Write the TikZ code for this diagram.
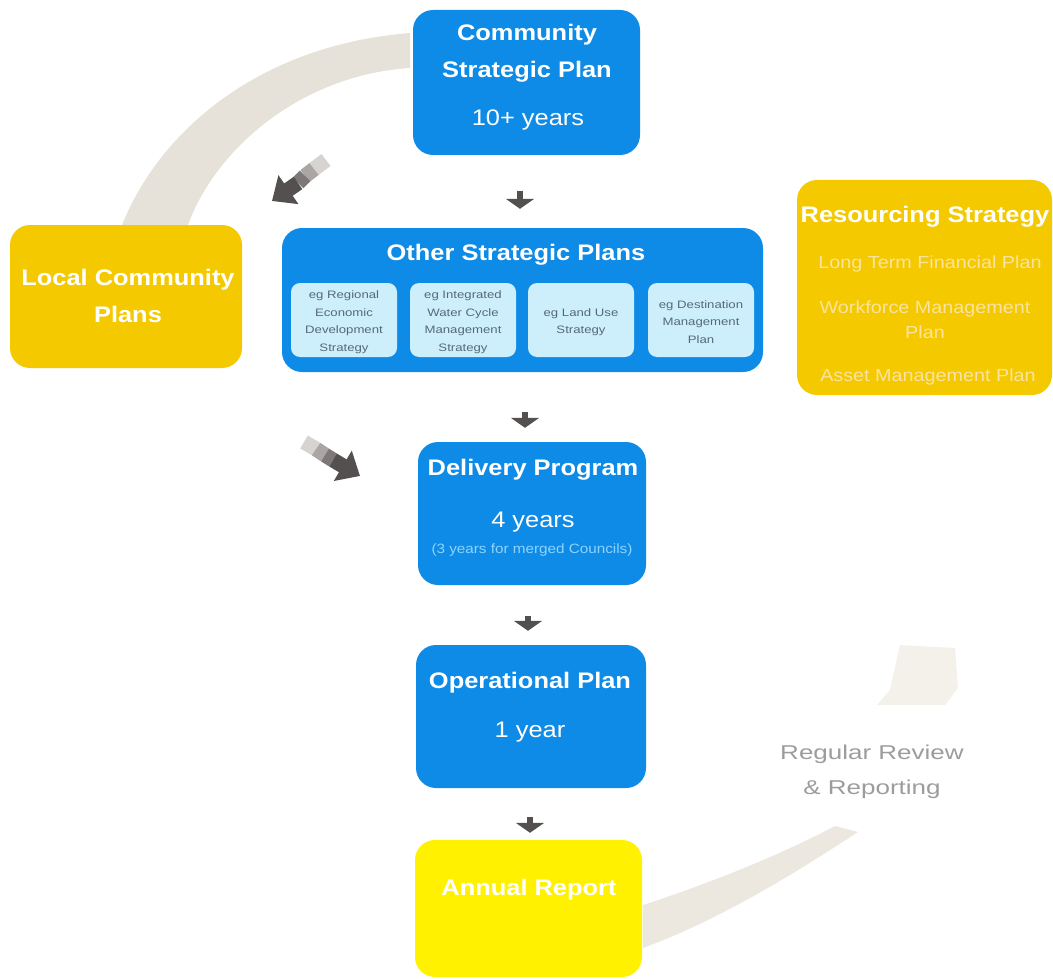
\documentclass[tikz,border=0pt]{standalone}
\usepackage{fontspec}
\setmainfont{Liberation Sans}[FakeStretch=1.13]
\newfontfamily\widefont{Liberation Sans}[FakeStretch=1.3]
\newfontfamily\subfont{Liberation Sans}[FakeStretch=1.22]
\usetikzlibrary{arrows.meta}
\definecolor{bluebox}{HTML}{0E8BE6}
\definecolor{goldbox}{HTML}{F4C900}
\definecolor{arbox}{HTML}{FFF100}
\definecolor{subfill}{HTML}{CDEFFB}
\definecolor{subtext}{HTML}{56697A}
\definecolor{rstext}{HTML}{FBE3A0}
\definecolor{dpnote}{HTML}{8ED4FF}
\definecolor{reviewtext}{HTML}{9C9C9C}
\definecolor{arrowgray}{HTML}{555050}
\definecolor{tailA}{HTML}{7E7878}
\definecolor{tailB}{HTML}{ABA6A4}
\definecolor{tailC}{HTML}{D6D3D0}
\definecolor{bandA}{HTML}{E6E2D9}
\definecolor{bandB}{HTML}{ECE8DF}
\definecolor{bandC}{HTML}{F4F1EA}
\tikzset{
  boxbase/.style={rounded corners=20pt, inner sep=0pt, draw=none},
  bluebx/.style={boxbase, fill=bluebox},
  goldbx/.style={boxbase, fill=goldbox},
  arbx/.style={boxbase, fill=arbox},
  subbx/.style={rounded corners=9pt, inner sep=0pt, fill=subfill, minimum width=106pt, minimum height=74pt},
  ttl/.style={text=white, font=\fontsize{22.5}{24}\selectfont\bfseries, inner sep=0pt},
  yrs/.style={text=white, font=\fontsize{22.5}{24}\selectfont, inner sep=0pt},
  subtxt/.style={text=subtext, font=\subfont\fontsize{10.8}{17.5}\selectfont, align=center, inner sep=0pt},
  rsitem/.style={text=rstext, font=\fontsize{17.5}{25}\selectfont, align=center, inner sep=0pt},
  downarr/.style={draw=arrowgray, line width=6pt, -{Triangle[width=28pt,length=10pt]}},
  diagarr/.style={draw=arrowgray, line width=15pt, -{Triangle[width=34pt,length=20pt]}},
  tailseg/.style={line width=15pt},
}
\begin{document}
\begin{tikzpicture}[x=1pt,y=-1pt]
\useasboundingbox (0,0) rectangle (1053,979);
% background bands
\fill[bandA] (410,33) .. controls (260,45) and (160,130) .. (122,225)
  -- (188,225) .. controls (215,150) and (300,75) .. (410,68) -- cycle;
\fill[bandB] (643,905) .. controls (720,880) and (790,850) .. (835,826)
  -- (858,832) .. controls (800,870) and (720,920) .. (643,948) -- cycle;
\fill[bandC] (900,645) -- (955,648) -- (958,688) -- (945,705) -- (877,705) -- (890,690) -- cycle;

% boxes
\node[bluebx, minimum width=227pt, minimum height=145pt] (csp) at (526.5,82.5) {};
\node[goldbx, minimum width=232pt, minimum height=143pt] (lcp) at (126,296.5) {};
\node[bluebx, minimum width=481pt, minimum height=144pt] (osp) at (522.5,300) {};
\node[goldbx, minimum width=255pt, minimum height=215pt] (rs) at (924.5,287.5) {};
\node[bluebx, minimum width=228pt, minimum height=143pt] (dp) at (532,513.5) {};
\node[bluebx, minimum width=230pt, minimum height=143pt] (op) at (531,716.5) {};
\node[arbx, minimum width=227pt, minimum height=137pt] (ar) at (528.5,908.5) {};

% sub boxes
\node[subbx] (s1) at (344,320) {};
\node[subbx] (s2) at (463,320) {};
\node[subbx] (s3) at (581,320) {};
\node[subbx] (s4) at (701,320) {};

% texts
\node[ttl] (csp1) at (527,35) {Community};
\node[ttl] (csp2) at (527,72) {Strategic Plan};
\node[yrs] (csp3) at (528,120) {10+ years};

\node[ttl] (lcp1) at (128,280) {Local Community};
\node[ttl] (lcp2) at (128,314) {Plans};

\node[ttl] (osp1) at (516,255) {Other Strategic Plans};
\node[subtxt] (s1t) at (344,322) {eg Regional\\Economic\\Development\\Strategy};
\node[subtxt] (s2t) at (463,322) {eg Integrated\\Water Cycle\\Management\\Strategy};
\node[subtxt] (s3t) at (581,322) {eg Land Use\\Strategy};
\node[subtxt] (s4t) at (701,322) {eg Destination\\Management\\Plan};

\node[ttl] (rs1) at (925,217) {Resourcing Strategy};
\node[rsitem] (rs2) at (930,264) {Long Term Financial Plan};
\node[rsitem] (rs3) at (925,320) {Workforce Management\\Plan};
\node[rsitem] (rs4) at (928,377) {Asset Management Plan};

\node[ttl] (dp1) at (533,470) {Delivery Program};
\node[yrs] (dp2) at (533,522) {4 years};
\node[text=dpnote, font=\fontsize{13.5}{15}\selectfont, inner sep=0pt] (dp3) at (532,550) {(3 years for merged Councils)};

\node[ttl] (op1) at (530,683) {Operational Plan};
\node[yrs] (op2) at (530,732) {1 year};

\node[ttl] (ar1) at (529,890) {Annual Report};

\node[text=reviewtext, font=\widefont\fontsize{20}{35}\selectfont, align=center, inner sep=0pt] (rr) at (872,772) {Regular Review\\\& Reporting};

% small down arrows
\draw[downarr, shorten <=36pt, shorten >=19pt] (csp.south -| 520,0) -- (osp.north -| 520,0);
\draw[downarr, shorten <=40pt, shorten >=14pt] (osp.south -| 525,0) -- (dp.north -| 525,0);
\draw[downarr, shorten <=31pt, shorten >=14pt] (dp.south -| 528,0) -- (op.north -| 528,0);
\draw[downarr, shorten <=29pt, shorten >=7pt] (op.south -| 530,0) -- (ar.north -| 530,0);

% diagonal arrows (fading tails)
\coordinate (a1t) at (326,160);
\coordinate (a1m) at (314,169);
\coordinate (a1n) at (305,176);
\coordinate (a1s) at (298,183);
\coordinate (a1e) at (272,201);
\draw[tailseg, tailC] (a1t) -- (a1m);
\draw[tailseg, tailB] (a1m) -- (a1n);
\draw[tailseg, tailA] (a1n) -- (a1s);
\draw[diagarr] (a1s) -- (a1e);
\coordinate (a2t) at (304,442);
\coordinate (a2m) at (316,449);
\coordinate (a2n) at (325,455);
\coordinate (a2s) at (333,460);
\coordinate (a2e) at (360,476);
\draw[tailseg, tailC] (a2t) -- (a2m);
\draw[tailseg, tailB] (a2m) -- (a2n);
\draw[tailseg, tailA] (a2n) -- (a2s);
\draw[diagarr] (a2s) -- (a2e);
\end{tikzpicture}
\end{document}
